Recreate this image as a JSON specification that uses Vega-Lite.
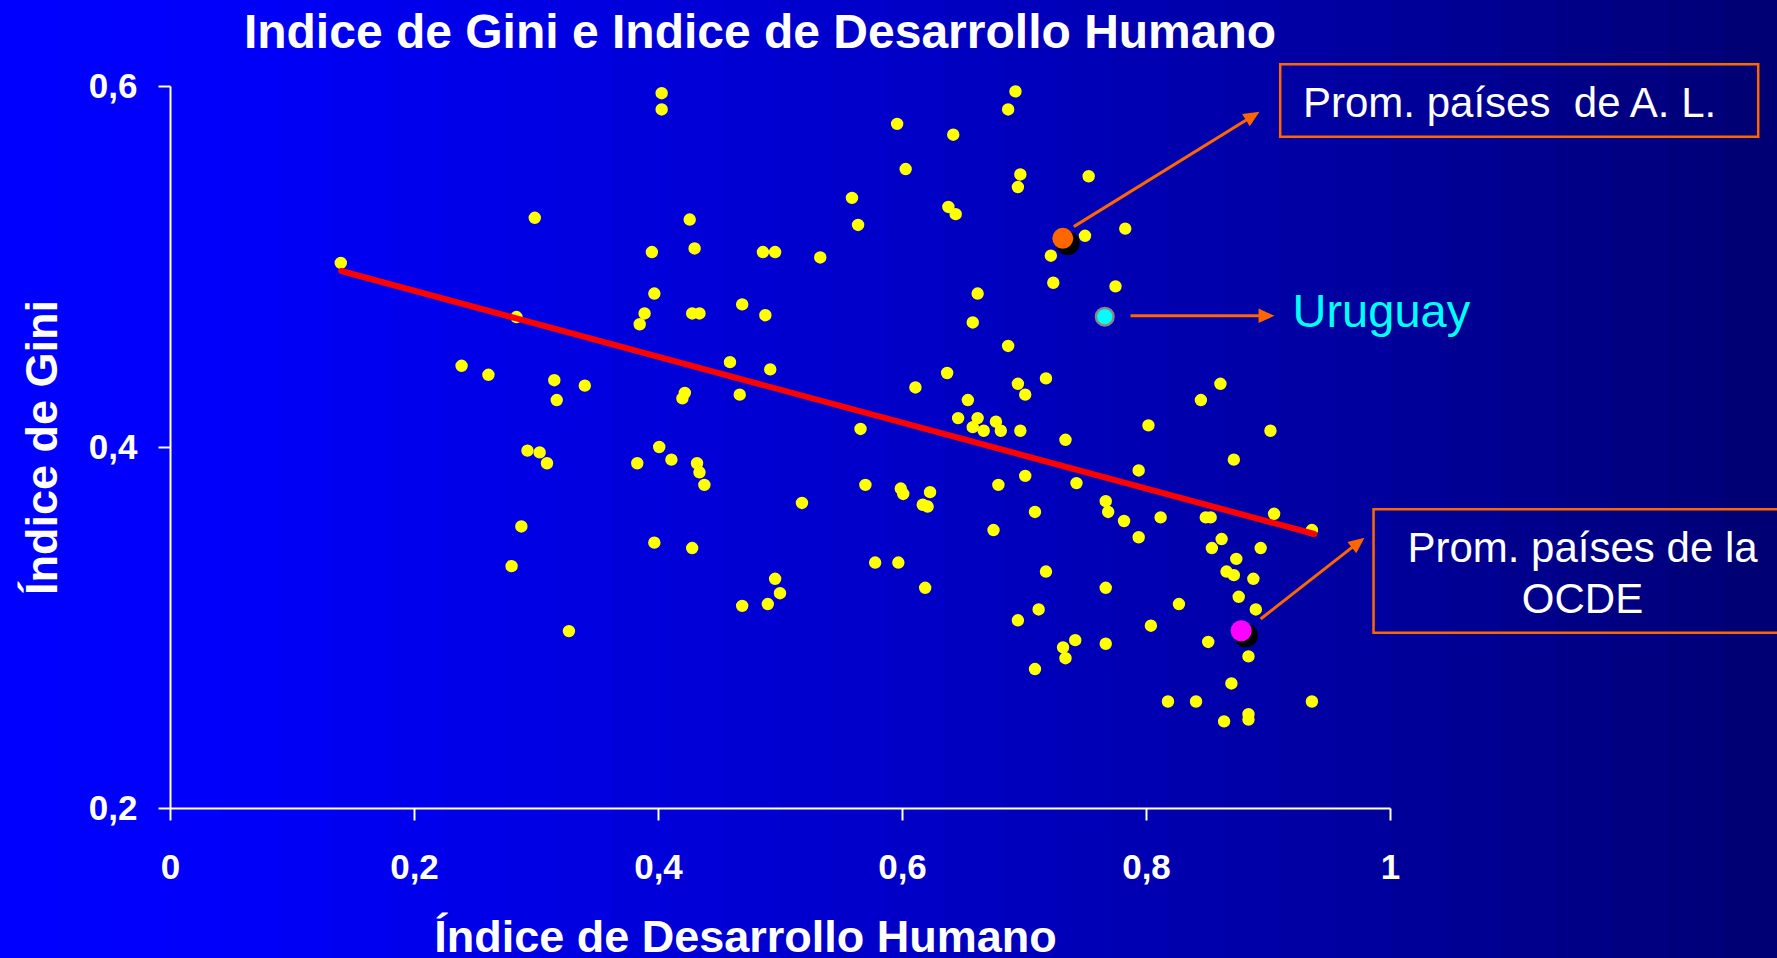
{
  "$schema": "https://vega.github.io/schema/vega-lite/v6.json",
  "width": 1220,
  "height": 722,
  "autosize": "none",
  "padding": {"left": 170, "top": 86, "right": 387, "bottom": 150},
  "background": "#0000B0",
  "config": {"view": {"stroke": null}},
  "title": {
    "text": "Indice de Gini e Indice de Desarrollo Humano",
    "color": "#FFFFFF",
    "font": "Liberation Sans",
    "fontSize": 48,
    "fontWeight": "bold",
    "anchor": "middle",
    "frame": "group",
    "dx": -20,
    "baseline": "alphabetic",
    "offset": -100
  },
  "datasets": {
    "fondo": [
      {"b0": -0.14, "b1": 1.32, "g0": 0.115, "g1": 0.65}, {"b0": -0.0944, "b1": 1.32, "g0": 0.115, "g1": 0.65},
      {"b0": -0.0488, "b1": 1.32, "g0": 0.115, "g1": 0.65}, {"b0": -0.0031, "b1": 1.32, "g0": 0.115, "g1": 0.65},
      {"b0": 0.0425, "b1": 1.32, "g0": 0.115, "g1": 0.65}, {"b0": 0.0881, "b1": 1.32, "g0": 0.115, "g1": 0.65},
      {"b0": 0.1338, "b1": 1.32, "g0": 0.115, "g1": 0.65}, {"b0": 0.1794, "b1": 1.32, "g0": 0.115, "g1": 0.65},
      {"b0": 0.225, "b1": 1.32, "g0": 0.115, "g1": 0.65}, {"b0": 0.2706, "b1": 1.32, "g0": 0.115, "g1": 0.65},
      {"b0": 0.3163, "b1": 1.32, "g0": 0.115, "g1": 0.65}, {"b0": 0.3619, "b1": 1.32, "g0": 0.115, "g1": 0.65},
      {"b0": 0.4075, "b1": 1.32, "g0": 0.115, "g1": 0.65}, {"b0": 0.4531, "b1": 1.32, "g0": 0.115, "g1": 0.65},
      {"b0": 0.4988, "b1": 1.32, "g0": 0.115, "g1": 0.65}, {"b0": 0.5444, "b1": 1.32, "g0": 0.115, "g1": 0.65},
      {"b0": 0.59, "b1": 1.32, "g0": 0.115, "g1": 0.65}, {"b0": 0.6356, "b1": 1.32, "g0": 0.115, "g1": 0.65},
      {"b0": 0.6813, "b1": 1.32, "g0": 0.115, "g1": 0.65}, {"b0": 0.7269, "b1": 1.32, "g0": 0.115, "g1": 0.65},
      {"b0": 0.7725, "b1": 1.32, "g0": 0.115, "g1": 0.65}, {"b0": 0.8181, "b1": 1.32, "g0": 0.115, "g1": 0.65},
      {"b0": 0.8638, "b1": 1.32, "g0": 0.115, "g1": 0.65}, {"b0": 0.9094, "b1": 1.32, "g0": 0.115, "g1": 0.65},
      {"b0": 0.955, "b1": 1.32, "g0": 0.115, "g1": 0.65}, {"b0": 1.0006, "b1": 1.32, "g0": 0.115, "g1": 0.65},
      {"b0": 1.0463, "b1": 1.32, "g0": 0.115, "g1": 0.65}, {"b0": 1.0919, "b1": 1.32, "g0": 0.115, "g1": 0.65},
      {"b0": 1.1375, "b1": 1.32, "g0": 0.115, "g1": 0.65}, {"b0": 1.1831, "b1": 1.32, "g0": 0.115, "g1": 0.65},
      {"b0": 1.2288, "b1": 1.32, "g0": 0.115, "g1": 0.65}, {"b0": 1.2744, "b1": 1.32, "g0": 0.115, "g1": 0.65}
    ],
    "puntos": [
      {"idh": 0.299, "gini": 0.527}, {"idh": 0.140, "gini": 0.502}, {"idh": 0.284, "gini": 0.472}, {"idh": 0.239, "gini": 0.445},
      {"idh": 0.261, "gini": 0.440}, {"idh": 0.315, "gini": 0.437}, {"idh": 0.317, "gini": 0.426}, {"idh": 0.340, "gini": 0.434},
      {"idh": 0.293, "gini": 0.398}, {"idh": 0.303, "gini": 0.397}, {"idh": 0.309, "gini": 0.391}, {"idh": 0.288, "gini": 0.356},
      {"idh": 0.280, "gini": 0.334}, {"idh": 0.327, "gini": 0.298},
      {"idh": 0.403, "gini": 0.596}, {"idh": 0.403, "gini": 0.587}, {"idh": 0.596, "gini": 0.579}, {"idh": 0.642, "gini": 0.573},
      {"idh": 0.603, "gini": 0.554}, {"idh": 0.559, "gini": 0.538}, {"idh": 0.564, "gini": 0.523}, {"idh": 0.638, "gini": 0.533},
      {"idh": 0.644, "gini": 0.529}, {"idh": 0.426, "gini": 0.526}, {"idh": 0.430, "gini": 0.510}, {"idh": 0.395, "gini": 0.508},
      {"idh": 0.486, "gini": 0.508}, {"idh": 0.496, "gini": 0.508}, {"idh": 0.533, "gini": 0.505}, {"idh": 0.397, "gini": 0.485},
      {"idh": 0.389, "gini": 0.474}, {"idh": 0.385, "gini": 0.468}, {"idh": 0.428, "gini": 0.474}, {"idh": 0.434, "gini": 0.474},
      {"idh": 0.469, "gini": 0.479}, {"idh": 0.488, "gini": 0.473}, {"idh": 0.662, "gini": 0.485}, {"idh": 0.658, "gini": 0.469},
      {"idh": 0.459, "gini": 0.447}, {"idh": 0.492, "gini": 0.443}, {"idh": 0.422, "gini": 0.430}, {"idh": 0.420, "gini": 0.427},
      {"idh": 0.467, "gini": 0.429}, {"idh": 0.637, "gini": 0.441}, {"idh": 0.611, "gini": 0.433}, {"idh": 0.654, "gini": 0.426},
      {"idh": 0.646, "gini": 0.416}, {"idh": 0.662, "gini": 0.416}, {"idh": 0.658, "gini": 0.411}, {"idh": 0.667, "gini": 0.409},
      {"idh": 0.566, "gini": 0.410}, {"idh": 0.401, "gini": 0.400},
      {"idh": 0.693, "gini": 0.597}, {"idh": 0.687, "gini": 0.587}, {"idh": 0.697, "gini": 0.551}, {"idh": 0.695, "gini": 0.544},
      {"idh": 0.753, "gini": 0.550}, {"idh": 0.783, "gini": 0.521}, {"idh": 0.750, "gini": 0.517}, {"idh": 0.722, "gini": 0.506},
      {"idh": 0.724, "gini": 0.491}, {"idh": 0.775, "gini": 0.489}, {"idh": 0.687, "gini": 0.456}, {"idh": 0.695, "gini": 0.435},
      {"idh": 0.701, "gini": 0.429}, {"idh": 0.718, "gini": 0.438}, {"idh": 0.861, "gini": 0.435}, {"idh": 0.845, "gini": 0.426},
      {"idh": 0.802, "gini": 0.412}, {"idh": 0.902, "gini": 0.409}, {"idh": 0.677, "gini": 0.414}, {"idh": 0.681, "gini": 0.409},
      {"idh": 0.697, "gini": 0.409}, {"idh": 0.734, "gini": 0.404},
      {"idh": 0.383, "gini": 0.391}, {"idh": 0.411, "gini": 0.393}, {"idh": 0.432, "gini": 0.391}, {"idh": 0.434, "gini": 0.386},
      {"idh": 0.438, "gini": 0.379}, {"idh": 0.518, "gini": 0.369}, {"idh": 0.570, "gini": 0.379}, {"idh": 0.599, "gini": 0.377},
      {"idh": 0.601, "gini": 0.374}, {"idh": 0.623, "gini": 0.375}, {"idh": 0.617, "gini": 0.368}, {"idh": 0.621, "gini": 0.367},
      {"idh": 0.397, "gini": 0.347}, {"idh": 0.428, "gini": 0.344}, {"idh": 0.578, "gini": 0.336}, {"idh": 0.597, "gini": 0.336},
      {"idh": 0.619, "gini": 0.322}, {"idh": 0.496, "gini": 0.327}, {"idh": 0.500, "gini": 0.319}, {"idh": 0.490, "gini": 0.313},
      {"idh": 0.469, "gini": 0.312},
      {"idh": 0.872, "gini": 0.393}, {"idh": 0.794, "gini": 0.387}, {"idh": 0.701, "gini": 0.384}, {"idh": 0.679, "gini": 0.379},
      {"idh": 0.743, "gini": 0.380}, {"idh": 0.709, "gini": 0.364}, {"idh": 0.675, "gini": 0.354}, {"idh": 0.767, "gini": 0.370},
      {"idh": 0.769, "gini": 0.364}, {"idh": 0.782, "gini": 0.359}, {"idh": 0.812, "gini": 0.361}, {"idh": 0.794, "gini": 0.350},
      {"idh": 0.849, "gini": 0.361}, {"idh": 0.853, "gini": 0.361}, {"idh": 0.905, "gini": 0.363}, {"idh": 0.936, "gini": 0.354},
      {"idh": 0.862, "gini": 0.349}, {"idh": 0.854, "gini": 0.344}, {"idh": 0.894, "gini": 0.344}, {"idh": 0.874, "gini": 0.338},
      {"idh": 0.866, "gini": 0.331}, {"idh": 0.872, "gini": 0.329}, {"idh": 0.888, "gini": 0.327}, {"idh": 0.876, "gini": 0.317},
      {"idh": 0.890, "gini": 0.310}, {"idh": 0.718, "gini": 0.331}, {"idh": 0.767, "gini": 0.322}, {"idh": 0.827, "gini": 0.313},
      {"idh": 0.712, "gini": 0.310}, {"idh": 0.695, "gini": 0.304}, {"idh": 0.804, "gini": 0.301}, {"idh": 0.742, "gini": 0.293},
      {"idh": 0.732, "gini": 0.289}, {"idh": 0.734, "gini": 0.283}, {"idh": 0.767, "gini": 0.291}, {"idh": 0.851, "gini": 0.292},
      {"idh": 0.884, "gini": 0.284}, {"idh": 0.709, "gini": 0.277}, {"idh": 0.870, "gini": 0.269}, {"idh": 0.818, "gini": 0.259},
      {"idh": 0.841, "gini": 0.259}, {"idh": 0.936, "gini": 0.259}, {"idh": 0.864, "gini": 0.248}, {"idh": 0.884, "gini": 0.252},
      {"idh": 0.884, "gini": 0.249}
    ],
    "tendencia": [
      {"idh": 0.1403, "gini": 0.4975},
      {"idh": 0.938, "gini": 0.3518}
    ],
    "destacados": [
      {"grupo": "A.L.", "idh": 0.7318, "gini": 0.5156},
      {"grupo": "Uruguay", "idh": 0.7662, "gini": 0.4722},
      {"grupo": "OCDE", "idh": 0.878, "gini": 0.2982}
    ],
    "flechas": [
      {"idh": 0.7408, "gini": 0.5221, "idh2": 0.8875, "gini2": 0.5834, "ang": 328.2},
      {"idh": 0.7873, "gini": 0.4727, "idh2": 0.8988, "gini2": 0.4727, "ang": 0},
      {"idh": 0.8939, "gini": 0.3047, "idh2": 0.9739, "gini2": 0.3470, "ang": 322}
    ],
    "cajas": [
      {"idh": 0.9100, "idh2": 1.3018, "gini": 0.6120, "gini2": 0.5719},
      {"idh": 0.9865, "idh2": 1.35, "gini": 0.3655, "gini2": 0.2971}
    ]
  },
  "encoding": {
    "x": {
      "field": "idh",
      "type": "quantitative",
      "scale": {"domain": [0, 1], "nice": false, "zero": false},
      "axis": {
        "title": "Índice de Desarrollo Humano",
        "values": [0, 0.2, 0.4, 0.6, 0.8, 1],
        "labelExpr": "replace(format(datum.value, '~g'), '.', ',')",
        "grid": false,
        "domainColor": "#FFFFFF",
        "domainWidth": 2,
        "tickColor": "#FFFFFF",
        "tickWidth": 2,
        "tickSize": 12,
        "labelColor": "#FFFFFF",
        "labelFont": "Liberation Sans",
        "labelFontSize": 35,
        "labelFontWeight": "bold",
        "labelPadding": 30,
        "labelFlush": false,
        "labelOverlap": false,
        "titleColor": "#FFFFFF",
        "titleFont": "Liberation Sans",
        "titleFontSize": 45,
        "titleFontWeight": "bold",
        "titleX": 575,
        "titleY": 143,
        "titleAlign": "center",
        "titleBaseline": "alphabetic",
        "zindex": 1
      }
    },
    "y": {
      "field": "gini",
      "type": "quantitative",
      "scale": {"domain": [0.2, 0.6], "nice": false, "zero": false},
      "axis": {
        "title": "Índice de Gini",
        "values": [0.2, 0.4, 0.6],
        "labelExpr": "replace(format(datum.value, '~g'), '.', ',')",
        "grid": false,
        "domainColor": "#FFFFFF",
        "domainWidth": 2,
        "tickColor": "#FFFFFF",
        "tickWidth": 2,
        "tickSize": 12,
        "labelColor": "#FFFFFF",
        "labelFont": "Liberation Sans",
        "labelFontSize": 35,
        "labelFontWeight": "bold",
        "labelPadding": 21,
        "labelFlush": false,
        "labelOverlap": false,
        "titleColor": "#FFFFFF",
        "titleFont": "Liberation Sans",
        "titleFontSize": 45,
        "titleFontWeight": "bold",
        "titleAngle": 270,
        "titleX": -114,
        "titleY": 361,
        "titleAlign": "center",
        "titleBaseline": "alphabetic",
        "zindex": 1
      }
    }
  },
  "layer": [
    {
      "data": {"name": "fondo"},
      "mark": {"type": "rect", "clip": false, "opacity": 1},
      "encoding": {
        "x": {"field": "b0", "type": "quantitative"},
        "x2": {"field": "b1"},
        "y": {"field": "g0", "type": "quantitative"},
        "y2": {"field": "g1"},
        "color": {
          "field": "b0",
          "type": "quantitative",
          "scale": {
            "domain": [-0.16, 0.035, 0.589, 0.953, 1.3],
            "range": ["#0000FF", "#0000FA", "#0000C6", "#00009E", "#000072"],
            "interpolate": "rgb"
          },
          "legend": null
        }
      }
    },
    {
      "data": {"name": "puntos"},
      "mark": {"type": "circle", "color": "#FFFF00", "opacity": 1, "size": 154, "clip": false}
    },
    {
      "data": {"name": "tendencia"},
      "mark": {"type": "line", "color": "#FF0000", "strokeWidth": 6, "strokeCap": "round", "clip": false}
    },
    {
      "data": {"name": "destacados"},
      "transform": [{"filter": "datum.grupo !== 'Uruguay'"}],
      "mark": {
        "type": "point",
        "shape": "M 1.4,0.4 A 1,1 0 1,1 -0.6,0.4 A 1,1 0 1,1 1.4,0.4 Z",
        "filled": true,
        "color": "#000000",
        "opacity": 1,
        "size": 576,
        "clip": false
      }
    },
    {
      "data": {"name": "destacados"},
      "transform": [{"filter": "datum.grupo !== 'Uruguay'"}],
      "mark": {"type": "point", "shape": "circle", "filled": true, "opacity": 1, "size": 440, "clip": false},
      "encoding": {
        "color": {
          "field": "grupo",
          "type": "nominal",
          "scale": {"domain": ["A.L.", "Uruguay", "OCDE"], "range": ["#FF6600", "#00FFFF", "#FF00FF"]},
          "legend": null
        }
      }
    },
    {
      "data": {"name": "destacados"},
      "transform": [{"filter": "datum.grupo === 'Uruguay'"}],
      "mark": {
        "type": "point",
        "shape": "circle",
        "filled": true,
        "fill": "#00FFFF",
        "stroke": "#888888",
        "strokeWidth": 2.5,
        "opacity": 1,
        "size": 310,
        "clip": false
      }
    },
    {
      "data": {"name": "flechas"},
      "mark": {"type": "rule", "color": "#FF6600", "strokeWidth": 3, "clip": false},
      "encoding": {
        "x2": {"field": "idh2"},
        "y2": {"field": "gini2"}
      }
    },
    {
      "data": {"name": "flechas"},
      "mark": {
        "type": "point",
        "shape": "M -1,-0.9 L 1,0 L -1,0.9 Z",
        "filled": true,
        "color": "#FF6600",
        "opacity": 1,
        "size": 256,
        "clip": false
      },
      "encoding": {
        "x": {"field": "idh2", "type": "quantitative"},
        "y": {"field": "gini2", "type": "quantitative"},
        "angle": {"field": "ang", "type": "quantitative", "scale": null}
      }
    },
    {
      "data": {"name": "cajas"},
      "mark": {"type": "rect", "fillOpacity": 0, "fill": "#000000", "stroke": "#FF6600", "strokeWidth": 2.5, "clip": false},
      "encoding": {
        "x2": {"field": "idh2"},
        "y2": {"field": "gini2"}
      }
    },
    {
      "data": {"values": [{"texto": "Prom. países \u00a0de A. L.", "idh": 0.9287, "gini": 0.5827}]},
      "mark": {"type": "text", "align": "left", "baseline": "alphabetic", "font": "Liberation Sans", "fontSize": 42, "color": "#FFFFFF", "clip": false},
      "encoding": {"text": {"field": "texto"}}
    },
    {
      "data": {"values": [
        {"texto": "Prom. países de la", "idh": 1.1578, "gini": 0.3365},
        {"texto": "OCDE", "idh": 1.1578, "gini": 0.3082}
      ]},
      "mark": {"type": "text", "align": "center", "baseline": "alphabetic", "font": "Liberation Sans", "fontSize": 42, "color": "#FFFFFF", "clip": false},
      "encoding": {"text": {"field": "texto"}}
    },
    {
      "data": {"values": [{"texto": "Uruguay", "idh": 0.9201, "gini": 0.4667}]},
      "mark": {"type": "text", "align": "left", "baseline": "alphabetic", "font": "Liberation Sans", "fontSize": 47, "color": "#00FFFF", "clip": false},
      "encoding": {"text": {"field": "texto"}}
    }
  ]
}
